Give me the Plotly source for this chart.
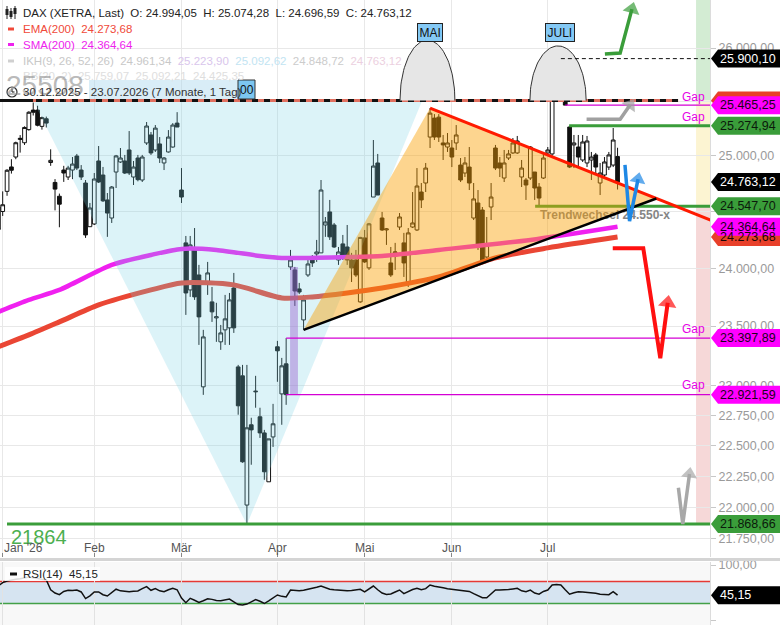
import numpy as np
import pandas as pd
import plotly.graph_objects as go

# ---------------- data ----------------
holidays = ["2025-12-31", "2026-01-01", "2026-04-03", "2026-04-06", "2026-05-01"]
dates = [d.strftime("%Y-%m-%d") for d in pd.bdate_range("2025-12-30", "2026-07-23")
         if d.strftime("%Y-%m-%d") not in holidays]
pos = {d: i for i, d in enumerate(dates)}
xi = list(range(len(dates)))

opens = [24540, 24500, 24680, 24900, 24990, 25150, 25120, 25240, 25420, 25420, 25270,
         25340, 24940, 24760, 24636, 24872, 24809, 24872, 24999, 24872, 24755,
         24365, 24389, 24954, 24827, 24603, 24442, 24854, 24945, 24954, 25054,
         24809, 24981, 24782, 25118, 25191, 25054, 25109, 24936, 25036, 25081,
         25300, 24692, 24222, 23811, 24160, 23941, 22987, 23880, 23708, 23570,
         23366, 23468, 23485, 23828, 23154, 23079, 22020, 22672, 22945, 22738,
         22605, 22207, 22572, 23324, 22928, 23180, 24011, 23985, 23820, 23553,
         23941, 24072, 24125, 24134, 24380, 24496, 24380, 24072, 24213, 24186,
         24072, 24072, 23708, 24266, 24003, 24629, 24936, 24442, 24336, 24046,
         24134, 24362, 24222, 23872, 24362, 24336, 24674, 24755, 25172, 25346,
         25355, 25118, 25081, 25072, 25118, 24917, 24845, 24899, 24442, 24576,
         24513, 24098, 24540, 25072, 24936, 24800, 24981, 25027, 25027, 24809,
         24782, 24800, 24854, 24719, 24800, 25027, 25018, 25766, 25812, 25719,
         25264, 25100, 25081, 24963, 24936, 24963, 25009, 24755, 24827, 24899,
         24917, 24994.05]
highs = [24560, 24680, 24880, 24970, 25130, 25190, 25270, 25410, 25490, 25460, 25360,
         25360, 25060, 24790, 24660, 24910, 24910, 24990, 25018, 24917, 24782,
         24576, 24845, 25090, 24900, 24665, 24728, 25009, 25072, 25009, 25227,
         24954, 25009, 25009, 25310, 25218, 25282, 25172, 24990, 25236, 25300,
         25401, 24890, 24283, 24283, 24353, 24029, 23468, 24055, 23837, 23700,
         23510, 23768, 23785, 23959, 23171, 23171, 23171, 22730, 23079, 22813,
         22630, 22556, 22845, 23374, 23230, 23397.89, 24160, 24011, 23872, 23768,
         24072, 24115, 24248, 24782, 24451, 24603, 24398, 24186, 24292, 24380,
         24134, 24160, 24275, 24336, 24398, 25145, 25018, 24496, 24353, 24186,
         24222, 24486, 24310, 24353, 24674, 24890, 24755, 24936, 25439, 25383,
         25383, 25191, 25209, 25145, 25282, 24981, 24990, 25081, 24755, 24692,
         24540, 24451, 24755, 25100, 24990, 25054, 25054, 25163, 25182, 24963,
         24800, 25090, 24854, 24755, 25027, 25081, 25670, 25821, 25900.10, 25793,
         25274.94, 25191, 25191, 25191, 25182, 25036, 25027, 24936, 24990, 25036,
         25255, 25074.28]
lows = [24330, 24460, 24640, 24840, 24970, 25030, 25100, 25230, 25370, 25270, 25240,
        25260, 24910, 24510, 24360, 24765, 24782, 24790, 24872, 24782, 24266,
        24365, 24380, 24755, 24585, 24275, 24398, 24710, 24936, 24836, 24827,
        24737, 24770, 24764, 25100, 25009, 25036, 24936, 24872, 25030, 25075,
        25264, 24576, 23596, 23751, 23725, 23340, 22920, 23768, 23536, 23366,
        23298, 23340, 23340, 23442, 22755, 22361, 21864, 22345, 22813, 22564,
        22223, 22207, 22490, 23029, 22672, 22837, 23985, 23673, 23775, 23468,
        23924, 24011, 24055, 24134, 24275, 24248, 24178, 24029, 24072, 24029,
        23880, 23924, 23700, 24046, 23985, 24629, 24647, 24327, 24204, 23924,
        23985, 24336, 23924, 23837, 24353, 24327, 24531, 24674, 25072, 25145,
        25127, 24963, 25036, 24899, 25054, 24764, 24809, 24692, 24424, 24160,
        24040, 24090, 24424, 24872, 24809, 24764, 24963, 25018, 25018, 24719,
        24603, 24782, 24603, 24540, 24791, 25009, 25000, 25580, 25700, 25465.25,
        24890, 24890, 24899, 24945, 24899, 24782, 24827, 24647, 24809, 24872,
        24899, 24696.59]
closes = [24340, 24560, 24870, 24870, 25120, 25160, 25260, 25400, 25400, 25280, 25350,
          25300, 24960, 24700, 24565, 24845, 24890, 24926, 24890, 24809, 24292,
          24531, 24791, 24764, 24595, 24486, 24719, 25000, 24981, 24845, 24845,
          24899, 24785, 24990, 25273, 25027, 25254, 24981, 24981, 25172, 25282,
          25264, 24629, 23785, 24204, 23751, 23579, 23408, 23959, 23622, 23580,
          23442, 23562, 23725, 23485, 22829, 22369, 22647, 22630, 22950, 22605,
          22288, 22556, 22680, 23290, 23163, 22921.59, 24072, 23802, 23793, 23725,
          24037, 24046, 24142, 24692, 24407, 24275, 24186, 24142, 24098, 24072,
          24003, 23941, 24270, 24055, 24390, 24908, 24647, 24336, 24345, 23941,
          24142, 24451, 24046, 24310, 24398, 24728, 24603, 24890, 25392, 25172,
          25172, 25100, 25118, 24990, 25191, 24782, 24936, 24755, 24612, 24186,
          24046, 24204, 24629, 24890, 24890, 24936, 25018, 25118, 25136, 24890,
          24737, 25081, 24710, 24620, 24981, 25054, 25578, 25785, 25830, 25466,
          24899, 25118, 24990, 25127, 25136, 24990, 24899, 24845, 24945, 25009,
          25145, 24763.12]
rsi = [62, 68, 71, 73, 74, 75, 76, 78, 77, 75, 74,
       72.7, 55, 49, 46, 52, 54, 53.5, 54.5, 51, 39,
       44, 51, 51, 46, 43.6, 50, 56, 53, 52, 51.5,
       52.5, 52.7, 57, 60.6, 54, 57, 53, 51.5, 55, 57.6,
       55, 40, 31.5, 39.4, 36, 32, 35, 38.5, 37.5, 35.5,
       35, 37, 38, 33, 28, 27.3, 29, 33, 37, 34,
       30, 35, 41, 45.5, 43, 42, 54.5, 53.5, 53, 54,
       55.5, 57, 59.5, 61.8, 59, 56, 55, 54, 53.5, 53,
       53.5, 55, 55.8, 51, 56, 61.8, 55, 49, 46.5, 47.3,
       51, 54.5, 48, 52, 55.5, 57.6, 55, 57, 63.6, 61.5,
       59.5, 58.5, 57, 56, 55.5, 54.5, 54, 52, 48, 44,
       40.5, 40.5, 48, 54.5, 54.5, 54.5, 55.5, 56.5, 57.6, 53,
       51.5, 54.5, 49, 47, 52, 54.5, 63.6, 64.5, 63.6, 55,
       47, 49.5, 51.5, 51, 50.5, 50, 48.5, 46.7, 46.3, 46,
       51.5, 45.15]

sma_dates = ["2025-12-30", "2026-01-12", "2026-01-21", "2026-02-06", "2026-02-19", "2026-03-02",
             "2026-03-12", "2026-03-26", "2026-04-02", "2026-04-27", "2026-05-08", "2026-05-27",
             "2026-06-25", "2026-07-23"]
sma_vals = [23622, 23725, 23811, 24029, 24116, 24169, 24160, 24107, 24090, 24098, 24107, 24160,
            24248, 24364.64]
ema_dates = ["2025-12-30", "2026-01-12", "2026-01-21", "2026-02-03", "2026-02-19", "2026-03-02",
             "2026-03-18", "2026-04-02", "2026-04-15", "2026-04-27", "2026-05-08", "2026-05-27",
             "2026-06-15", "2026-07-01", "2026-07-23"]
ema_vals = [23324, 23425, 23536, 23682, 23811, 23872, 23855, 23742, 23751, 23785, 23828, 23924,
            24090, 24178, 24273.68]

month_ticks = ["2026-01-02", "2026-02-02", "2026-03-02", "2026-04-01", "2026-05-04", "2026-06-01", "2026-07-01"]
month_labels = ["Jan '26", "Feb", "Mär", "Apr", "Mai", "Jun", "Jul"]

price_ticks = [21750, 22000, 22250, 22500, 22750, 23000, 23500, 24000, 24500, 25000, 25500, 26000]
hidden_ticks = [24500, 25500]

# drawing geometry (index position, price)
blue_x, blue_y = [7.95, 57, 97.2], [25508, 21864, 25508]
tri_x, tri_y = [70, 99, 150.9], [23468, 25439, 24616]
red_x, red_y = [99, 163.6], [25439, 24420]
black_x, black_y = [70, 150.9], [23468, 24616]
purple_x, purple_y = [66.9, 68.7], [22921.59, 24011]
resist = 25508
domes = [("MAI", 98.4, 6.3, 26075), ("JULI", 128.35, 6.45, 26020)]
arrows = [
    ([139.1, 142.6, 145.3], [25943, 25952, 26370], "#3a9d3a", 3.5, 15),
    ([134.9, 142.6, 144.9], [25335, 25335, 25470], "#a0a0a0", 3.5, 14),
    ([143.7, 144.75, 146.7], [24918, 24415, 24790], "#1e88e5", 3.5, 14),
    ([140.9, 147.9, 151.8, 153.5], [24175, 24175, 23227, 23700], "#ff1010", 4, 16),
    ([155.95, 156.96, 158.5], [22159, 21869, 22270], "#a8a8a8", 3.5, 14),
]
X_RIGHT = 163.2
X_LEFT = 0.38

# ---------------- helpers ----------------
def de(v):
    return f"{v:,.2f}".replace(",", "X").replace(".", ",").replace("X", ".")

def xp(px):
    return px / 710.0

def yp(py):
    return 1 - py / 625.0

FONT = "Liberation Sans, Arial, sans-serif"
fig = go.Figure()

# candles
fig.add_trace(go.Candlestick(
    x=xi, open=opens, high=highs, low=lows, close=closes,
    increasing=dict(line=dict(color="#111", width=1), fillcolor="#ffffff"),
    decreasing=dict(line=dict(color="#111", width=1), fillcolor="#111111"),
    whiskerwidth=0, hoverinfo="skip"))

# moving averages
fig.add_trace(go.Scatter(x=[pos[d] for d in ema_dates], y=ema_vals, mode="lines",
                         line=dict(color="#ea4634", width=5, shape="spline", smoothing=0.7)))
fig.add_trace(go.Scatter(x=[pos[d] for d in sma_dates], y=sma_vals, mode="lines",
                         line=dict(color="#f020f0", width=4.5, shape="spline", smoothing=0.7)))

# support line 24547.70 + text (under triangle overlay)
fig.add_trace(go.Scatter(x=[123.1, X_RIGHT + 1], y=[24547.70, 24547.70], mode="lines",
                         line=dict(color="#3a9d3a", width=3)))
fig.add_trace(go.Scatter(x=[124.2], y=[24459], mode="text", text=["Trendwechsel 24.550-x"],
                         textposition="middle right",
                         textfont=dict(family=FONT, size=12, color="#858585", weight="bold")))

# overlays
fig.add_trace(go.Scatter(x=blue_x + [blue_x[0]], y=blue_y + [blue_y[0]], fill="toself", mode="lines",
                         fillcolor="rgba(116,208,228,0.25)", line=dict(width=0)))
fig.add_trace(go.Scatter(x=tri_x + [tri_x[0]], y=tri_y + [tri_y[0]], fill="toself", mode="lines",
                         fillcolor="rgba(250,160,0,0.44)", line=dict(width=0)))
fig.add_trace(go.Scatter(x=[purple_x[0], purple_x[1], purple_x[1], purple_x[0], purple_x[0]],
                         y=[purple_y[0], purple_y[0], purple_y[1], purple_y[1], purple_y[0]],
                         fill="toself", mode="lines", fillcolor="rgba(150,90,205,0.42)", line=dict(width=0)))
fig.add_trace(go.Scatter(x=red_x, y=red_y, mode="lines", line=dict(color="#ff1a00", width=3)))
fig.add_trace(go.Scatter(x=black_x, y=black_y, mode="lines", line=dict(color="#000", width=2.5)))

# resistance line: solid black at the far left, then black/red dashes
fig.add_trace(go.Scatter(x=[X_LEFT, 155.9], y=[resist, resist], mode="lines",
                         line=dict(color="#e07060", width=3)))
fig.add_trace(go.Scatter(x=[X_LEFT, 155.9], y=[resist, resist], mode="lines",
                         line=dict(color="#111", width=3, dash="6px,6px")))
fig.add_trace(go.Scatter(x=[X_LEFT, 7.95], y=[resist, resist], mode="lines",
                         line=dict(color="#111", width=3)))

# domes
for name, c, w, top in domes:
    t = np.linspace(0, np.pi, 61)
    fig.add_trace(go.Scatter(x=c - w * np.cos(t), y=resist * (top / resist) ** np.sin(t),
                             mode="lines", fill="toself", fillcolor="#e6e6e6",
                             line=dict(color="#333", width=1)))

# gap / level lines
for lvl, x0 in [(25465.25, 130), (23397.89, 66), (22921.59, 66)]:
    fig.add_trace(go.Scatter(x=[x0, X_RIGHT + 1], y=[lvl, lvl], mode="lines",
                             line=dict(color="#d400d4", width=1.2)))
for lvl, x0 in [(25274.94, 130.9), (21868.66, 1.99)]:
    fig.add_trace(go.Scatter(x=[x0, X_RIGHT + 1], y=[lvl, lvl], mode="lines",
                             line=dict(color="#3a9d3a", width=3)))
fig.add_trace(go.Scatter(x=[129, X_RIGHT + 1], y=[25900.10, 25900.10], mode="lines",
                         line=dict(color="#111", width=1, dash="4px,3px")))

# arrows
for ax_, ay_, col, lw, ms in arrows:
    sizes = [0] * (len(ax_) - 1) + [ms]
    fig.add_trace(go.Scatter(x=ax_, y=ay_, mode="lines+markers",
                             line=dict(color=col, width=lw),
                             marker=dict(symbol="triangle-up", size=sizes, color=col,
                                         angleref="previous", line=dict(width=0))))

# RSI
fig.add_trace(go.Scatter(x=xi, y=rsi, mode="lines", line=dict(color="#111", width=1.5),
                         xaxis="x2", yaxis="y2"))

# ---------------- shapes ----------------
shapes = []
for y0, y1, col in [(resist, 27000, "#d3ecd3"), (24547.70, resist, "#fcf4d2"), (21868.66, 24547.70, "#f6d8d8")]:
    shapes.append(dict(type="rect", xref="x", yref="y", x0=160.0, x1=X_RIGHT + 1, y0=y0, y1=y1,
                       fillcolor=col, line=dict(width=0), layer="below"))
shapes.append(dict(type="rect", xref="paper", yref="y2", x0=0, x1=1, y0=-9.1, y1=105.5,
                   fillcolor="#f8f8f8", line=dict(width=0), layer="below"))
shapes.append(dict(type="rect", xref="paper", yref="y2", x0=0, x1=1, y0=30, y1=70,
                   fillcolor="#d6e4f1", line=dict(width=0), layer="below"))
shapes.append(dict(type="line", xref="paper", yref="y2", x0=0, x1=1, y0=70, y1=70,
                   line=dict(color="#e53935", width=1.5), layer="between"))
shapes.append(dict(type="line", xref="paper", yref="y2", x0=0, x1=1, y0=30, y1=30,
                   line=dict(color="#43a047", width=1.5), layer="between"))
shapes.append(dict(type="line", xref="paper", yref="paper", x0=0, x1=780 / 710, y0=yp(559.5), y1=yp(559.5),
                   line=dict(color="#d4d4d4", width=3)))

TAG = "M 1,0 L 8,9 L 76,9 L 76,-9 L 8,-9 Z"
tags = [
    (25900.10, "#000000", "#ffffff", True),
    (25508.00, "#e8402a", "#000000", False),
    (25465.25, "#ff00ff", "#1a001a", True),
    (25274.94, "#3a9d3a", "#0b1a0b", True),
    (24763.12, "#000000", "#ffffff", True),
    (24547.70, "#3a9d3a", "#0b1a0b", True),
    (24273.68, "#e8402a", "#1a0505", True),
    (24364.64, "#ff00ff", "#1a001a", True),
    (23397.89, "#ff00ff", "#1a001a", True),
    (22921.59, "#ff00ff", "#1a001a", True),
    (21868.66, "#3a9d3a", "#0b1a0b", True),
]
annotations = []
for val, bg, fg, show in tags:
    shapes.append(dict(type="path", xref="paper", yref="y", xsizemode="pixel", ysizemode="pixel",
                       xanchor=1, yanchor=val, path=TAG, fillcolor=bg, line=dict(width=0), layer="above"))
    if show:
        annotations.append(dict(xref="paper", yref="y", x=1, y=np.log10(val), xanchor="left",
                                yanchor="middle", xshift=8, showarrow=False, text=de(val),
                                font=dict(family=FONT, size=12.5, color=fg)))
shapes.append(dict(type="path", xref="paper", yref="y2", xsizemode="pixel", ysizemode="pixel",
                   xanchor=1, yanchor=rsi[-1], path=TAG, fillcolor="#000", line=dict(width=0), layer="above"))
annotations.append(dict(xref="paper", yref="y2", x=1, y=rsi[-1], xanchor="left", yanchor="middle",
                        xshift=8, showarrow=False, text=de(rsi[-1]),
                        font=dict(family=FONT, size=12.5, color="#fff")))

def pline(x0, x1, y, col, w, y1=None):
    shapes.append(dict(type="line", xref="paper", yref="paper", x0=xp(x0), x1=xp(x1), y0=yp(y),
                       y1=yp(y if y1 is None else y1), line=dict(color=col, width=w)))

def prect(x0, x1, y0, y1, fill, lc=None, lw=0):
    shapes.append(dict(type="rect", xref="paper", yref="paper", x0=xp(x0), x1=xp(x1), y0=yp(y1), y1=yp(y0),
                       fillcolor=fill, line=dict(color=lc or fill, width=lw)))

for cx, b0, b1, top in [(7, 9, 15, 6), (11, 11, 17, 8), (15, 8, 14, 6)]:
    pline(cx, cx, top, "#222", 1, y1=19)
    prect(cx - 1.5, cx + 1.5, b0, b1, "#222")
pline(8, 14, 29, "#f04a3a", 3)
pline(8, 14, 44.5, "#ee22ee", 3)
pline(8, 14, 61, "#d0d0d0", 3)
prect(89, 238, 80, 99, "rgba(170,215,238,0.45)")
prect(238, 255, 80, 99, "#7cc6f0", "#333", 1)
shapes.append(dict(type="circle", xref="paper", yref="paper", x0=xp(7), x1=xp(17), y0=yp(97), y1=yp(87),
                   line=dict(color="#333", width=1.2)))
pline(12, 12, 92, "#333", 1.2, y1=88.5)
pline(12, 14.5, 92, "#333", 1.2)
prect(5, 100, 567, 581, "rgba(255,255,255,0.85)")
pline(10, 17, 574, "#111", 3)

def ann(text, x, y, size=11.5, color="#222", xanchor="left", **kw):
    d = dict(xref="paper", yref="paper", x=xp(x), y=yp(y), text=text, showarrow=False,
             xanchor=xanchor, yanchor="middle", font=dict(family=FONT, size=size, color=color))
    d.update(kw)
    annotations.append(d)

NB = "\u00a0"
ann(f"DAX (XETRA, Last){NB} O: 24.994,05{NB} H: 25.074,28{NB} L: 24.696,59{NB} C: 24.763,12", 21, 12.5)
ann(f"EMA(200){NB} 24.273,68", 21, 29, color="#f04a3a")
ann(f"SMA(200){NB} 24.364,64", 21, 44.5, color="#ee22ee")
ann(f"<span style='color:#c8c8c8'>IKH(9, 26, 52, 26){NB} 24.961,34</span>{NB} "
    f"<span style='color:#d9c6ec'>25.223,90</span>{NB} <span style='color:#c2e4f2'>25.092,62</span>{NB} "
    f"<span style='color:#cccccc'>24.848,72</span>{NB} <span style='color:#ecd0e0'>24.763,12</span>", 21, 61)
ann(f"BB(20, 2){NB} 25.759,07{NB} 25.092,21{NB} 24.425,35", 21, 76, color="#dedede")
ann("25508", 4, 85, size=28, color="rgba(140,140,140,0.6)")
ann("30.12.2025 - 23.07.2026 (7 Monate, 1 Tag)", 21, 92, color="#333")
ann("00", 246.5, 90, size=12, color="#111", xanchor="center")
ann("21864", 9, 537, size=20, color="#4caf50")
ann(f"RSI(14){NB} 45,15", 21, 574, color="#222")
for lbl, y in [("Gap", 97), ("Gap", 117), ("Gap", 329), ("Gap", 385)]:
    ann(lbl, 693, y, size=12, color="#e600e6", xanchor="center")
for lbl, px in [("MAI", 429.5), ("JULI", 559.5)]:
    ann(lbl, px, 33, size=12, color="#111", xanchor="center", bgcolor="#84c9f5",
        bordercolor="#222", borderwidth=1, borderpad=1.5)
for i, (d, lbl) in enumerate(zip(month_ticks, month_labels)):
    annotations.append(dict(xref="x", yref="paper", x=pos[d], y=yp(548), text=lbl, showarrow=False,
                            xanchor="left" if i == 0 else "center", xshift=-1 if i == 0 else 0,
                            yanchor="middle", font=dict(family=FONT, size=12, color="#555")))

fig.update_layout(
    width=780, height=625, margin=dict(l=0, r=70, t=0, b=0, autoexpand=False),
    paper_bgcolor="white", plot_bgcolor="white", showlegend=False,
    font=dict(family=FONT, size=12, color="#333"),
    boxgap=0.15, boxgroupgap=0,
    shapes=shapes, annotations=annotations,
    xaxis=dict(domain=[0, 1], range=[X_LEFT, X_RIGHT], anchor="y", tickmode="array",
               tickvals=[pos[d] for d in month_ticks], showticklabels=False, ticks="inside",
               ticklen=4, tickcolor="#888", showgrid=True, gridcolor="#e8e8e8", zeroline=False,
               rangeslider=dict(visible=False), showline=False),
    yaxis=dict(domain=[1 - 557 / 625, 1], type="log", range=[np.log10(21608), np.log10(26458)],
               side="right", anchor="x", tickmode="array", tickvals=price_ticks,
               ticktext=["" if v in hidden_ticks else de(v) for v in price_ticks],
               tickfont=dict(family=FONT, color="#9a9a9a", size=12.5), ticks="outside", ticklen=5,
               tickcolor="#c8c8c8", showgrid=True, gridcolor="#e8e8e8", showline=True,
               linecolor="#dcdcdc", zeroline=False, automargin=False),
    xaxis2=dict(domain=[0, 1], anchor="y2", matches="x", tickmode="array",
                tickvals=[pos[d] for d in month_ticks], showticklabels=False, showgrid=True,
                gridcolor="#e2e2e2", zeroline=False, ticks=""),
    yaxis2=dict(domain=[0, 63 / 625], range=[-9.1, 105.5], side="right", anchor="x2",
                tickmode="array", tickvals=[0, 100], ticktext=["0,00", "100,00"],
                tickfont=dict(family=FONT, color="#9a9a9a", size=12.5), ticks="outside", ticklen=5,
                tickcolor="#c8c8c8", showgrid=False, showline=True, linecolor="#dcdcdc", zeroline=False,
                automargin=False),
)

fig.write_html("out.html", config={"displayModeBar": False, "staticPlot": True},
               post_script="document.body.style.margin='0';document.body.style.padding='0';"
                           "document.body.style.overflow='hidden';")
